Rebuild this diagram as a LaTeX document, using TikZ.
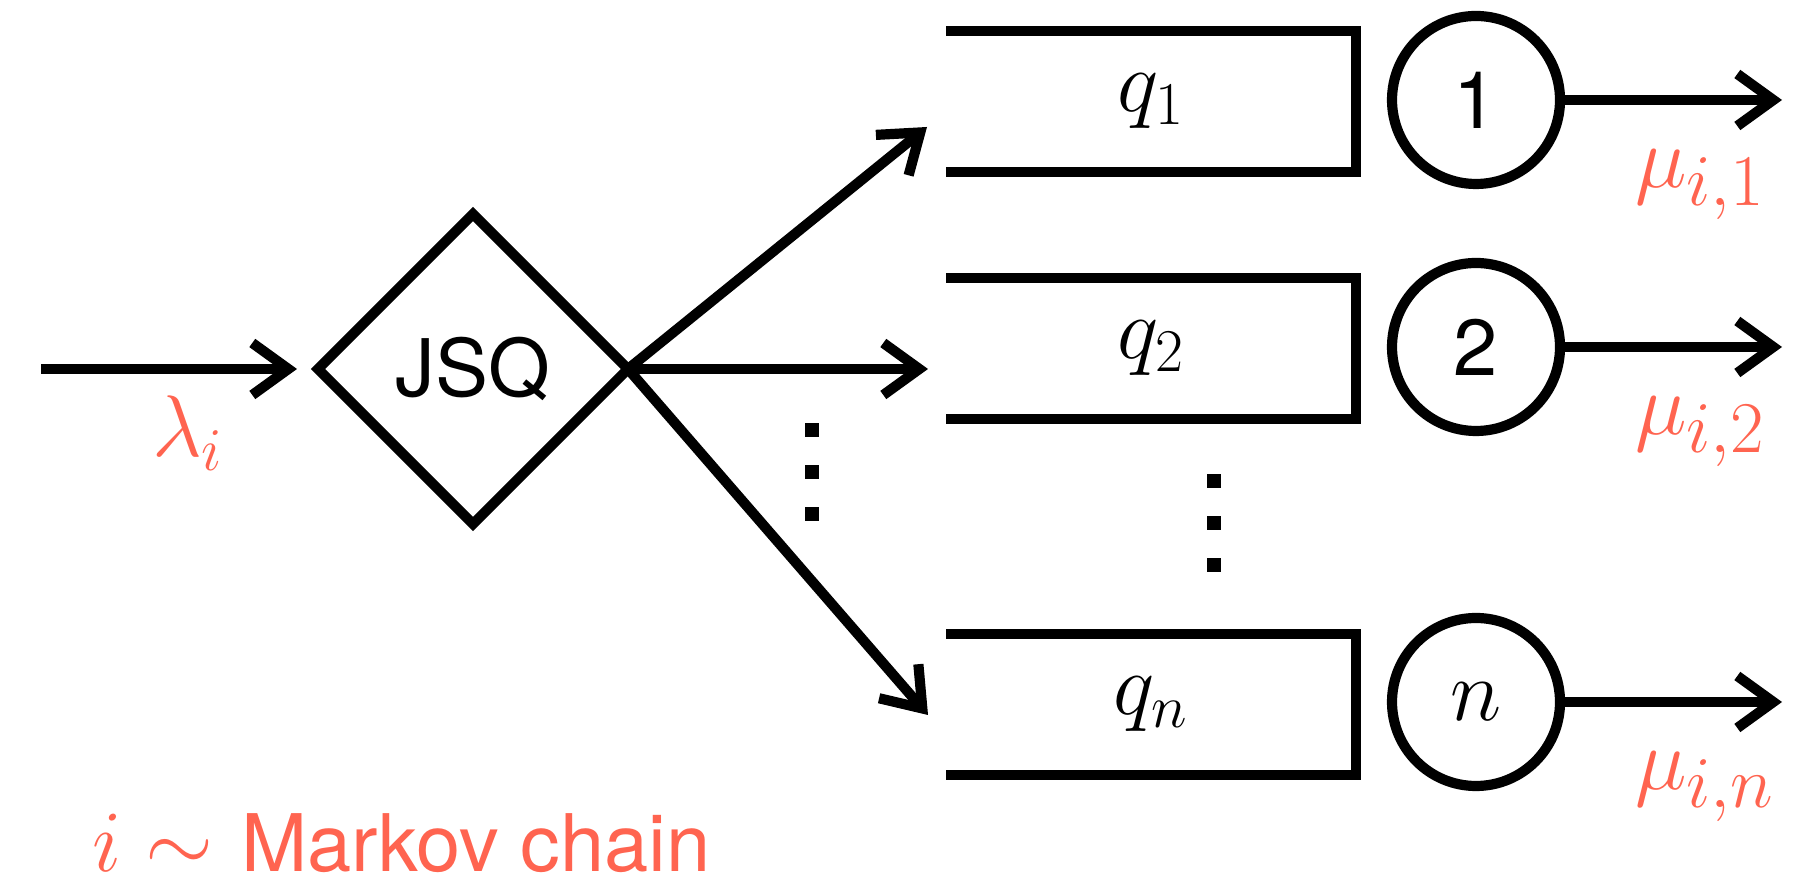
\documentclass[tikz,border=0pt]{standalone}
\usepackage{fontspec}
\setsansfont{TeX Gyre Heros}
\usetikzlibrary{arrows.meta,shapes.geometric}
\definecolor{rateorange}{RGB}{255,100,80}

\begin{document}
\begin{tikzpicture}[line width=2.9pt,
  sans/.style={font=\sffamily\fontsize{22.6}{27}\selectfont},
  mathlbl/.style={font=\fontsize{26}{30}\selectfont},
  rate/.style={mathlbl, text=rateorange, inner sep=0pt},
  outrate/.style={rate, font=\fontsize{29}{33}\selectfont, anchor=base west},
  queue/.style={mathlbl, minimum width=4.1cm, minimum height=1.41cm, inner sep=0pt, outer sep=0pt},
  server/.style={circle, draw, minimum size=1.68cm, inner sep=0pt, outer sep=0pt},
  dispatch/.style={diamond, draw, sans, aspect=1, minimum width=3.1cm, minimum height=3.1cm, inner sep=0pt, outer sep=0pt},
  arr/.style={-{Straight Barb[length=3.6mm,width=5.2mm]}}]
  \useasboundingbox (0,0) rectangle (18.08,8.87);

  % arrivals and the dispatcher
  \coordinate (src) at (0.41,5.18);
  \node[dispatch] (jsq) at (4.73,5.18) {JSQ};
  \draw[arr, shorten >=2.1mm] (src) -- (jsq.west);
  \node[rate, anchor=base] (lam) at (1.88,4.30) {$\lambda_i$};

  % queues
  \node[queue] (q1) at (11.51,7.855) {$q_1$};
  \draw (q1.north west) -- (q1.north east) -- (q1.south east) -- (q1.south west);
  \node[queue] (q2) at (11.51,5.385) {$q_2$};
  \draw (q2.north west) -- (q2.north east) -- (q2.south east) -- (q2.south west);
  \node[queue] (qn) at (11.51,1.825) {$q_n$};
  \draw (qn.north west) -- (qn.north east) -- (qn.south east) -- (qn.south west);

  % routing
  \coordinate (t1) at (9.27,7.60);
  \coordinate (t2) at (9.28,5.18);
  \coordinate (tn) at (9.28,1.72);
  \draw[arr] (jsq.east) -- (t1);
  \draw[arr] (jsq.east) -- (t2);
  \draw[arr] (jsq.east) -- (tn);
  \foreach \y in {4.57,4.15,3.73} \fill (8.05,\y-0.07) rectangle ++(0.14,0.14);
  \foreach \y in {4.06,3.64,3.22} \fill (12.07,\y-0.07) rectangle ++(0.14,0.14);

  % servers
  \node[server, sans] (s1) at (14.76,7.87) {1};
  \node[server, sans] (s2) at (14.76,5.40) {2};
  \node[server, mathlbl] (sn) at (14.76,1.85) {$n$};
  \coordinate (o1) at (17.82,7.87);
  \coordinate (o2) at (17.82,5.40);
  \coordinate (on) at (17.82,1.85);
  \draw[arr] (s1) -- (o1);
  \draw[arr] (s2) -- (o2);
  \draw[arr] (sn) -- (on);
  \node[outrate] (mu1) at (16.30,6.99) {$\mu_{i,1}$};
  \node[outrate] (mu2) at (16.30,4.52) {$\mu_{i,2}$};
  \node[outrate] (mun) at (16.30,0.97) {$\mu_{i,n}$};

  \node[rate, anchor=base west] (chain) at (0.87,0.15) {$i\sim$ \sffamily\fontsize{22.6}{27}\selectfont Markov chain};
\end{tikzpicture}
\end{document}
